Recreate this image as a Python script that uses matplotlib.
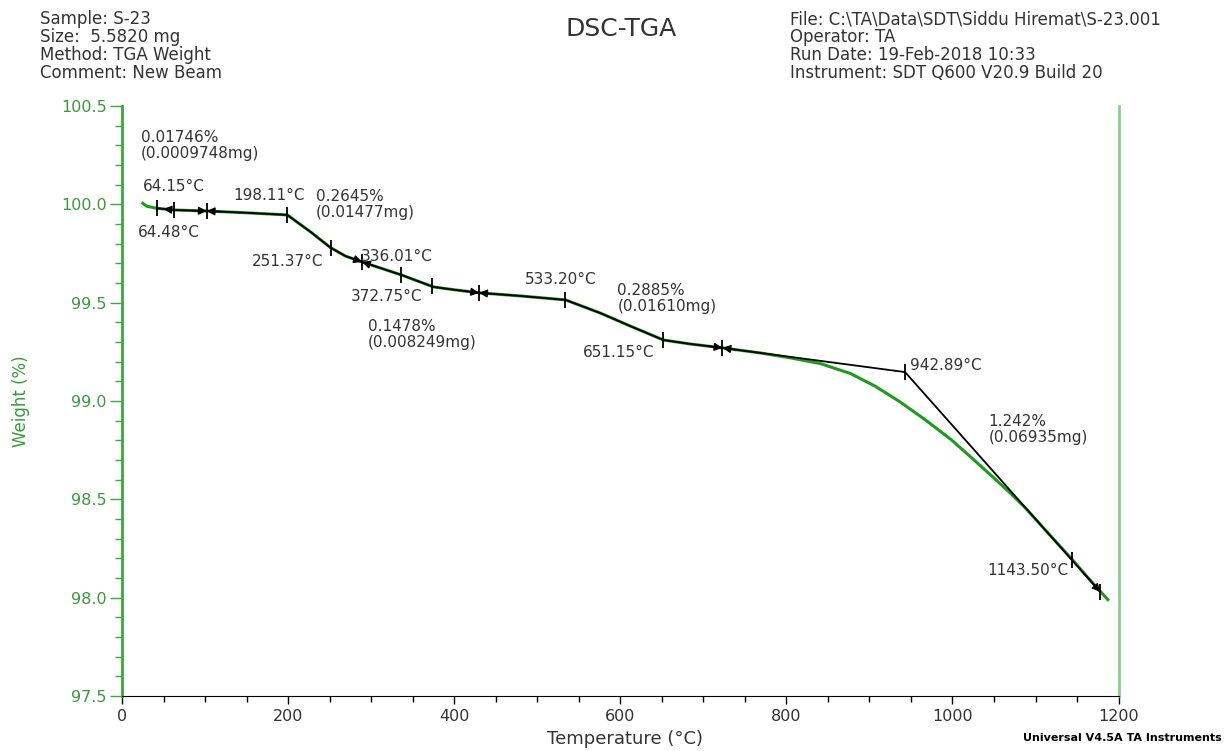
import numpy as np
import matplotlib
matplotlib.use("Agg")
import matplotlib.pyplot as plt

# TGA weight curve
temp = [25, 30, 42, 63, 102, 154, 199, 227, 251, 269, 289, 337, 375, 401, 430,
        480, 534, 576, 612, 652, 684, 723, 769, 805, 841, 877, 907, 937, 967,
        998, 1022, 1049, 1070, 1088, 1118, 1145, 1166, 1187]
weight = [100.005, 99.99, 99.98, 99.971, 99.966, 99.956, 99.946, 99.86, 99.78,
          99.737, 99.707, 99.64, 99.58, 99.565, 99.55, 99.534, 99.514, 99.447,
          99.381, 99.31, 99.29, 99.27, 99.244, 99.219, 99.190, 99.140, 99.075,
          98.995, 98.905, 98.805, 98.715, 98.612, 98.53, 98.455, 98.315, 98.19,
          98.088, 97.99]

# analysis: traced part of the curve, then the straight step lines
trace_range = (42, 723)
step_t = [723, 942.89, 1178]
step_w = [99.27, 99.147, 98.029]

# cursor marks
cursor_curve = [42, 63, 102, 198.11, 251.37, 289, 336.01, 372.75, 430,
                533.20, 651.15, 723]
cursor_line = [942.89, 1143.50, 1178]
arrows_both = [102, 289, 430, 723]

# annotation texts (label, x, y)
notes = [
    ("0.01746%\n(0.0009748mg)", 22.9, 100.299),
    ("64.15°C", 25.3, 100.093),
    ("64.48°C", 19.3, 99.859),
    ("198.11°C", 133.7, 100.047),
    ("0.2645%\n(0.01477mg)", 233.7, 99.999),
    ("251.37°C", 156.6, 99.707),
    ("336.01°C", 288.0, 99.737),
    ("372.75°C", 275.9, 99.529),
    ("0.1478%\n(0.008249mg)", 296.4, 99.338),
    ("533.20°C", 485.5, 99.620),
    ("0.2885%\n(0.01610mg)", 596.4, 99.521),
    ("651.15°C", 555.4, 99.249),
    ("942.89°C", 949.4, 99.183),
    ("1.242%\n(0.06935mg)", 1043.4, 98.855),
    ("1143.50°C", 1042.2, 98.136),
]

header_left = ["Sample: S-23", "Size:  5.5820 mg", "Method: TGA Weight",
               "Comment: New Beam"]
header_right = ["File: C:\\TA\\Data\\SDT\\Siddu Hiremat\\S-23.001",
                "Operator: TA", "Run Date: 19-Feb-2018 10:33",
                "Instrument: SDT Q600 V20.9 Build 20"]

green = "#1f9a1f"
txt = "#333333"
plt.rcParams["font.family"] = ["DejaVu Sans"]

fig = plt.figure(figsize=(12.26, 7.51), dpi=100)
ax = fig.add_axes([0.0995, 0.0732, 0.8129, 0.7857])

t = np.array(temp)
w = np.array(weight)
ax.plot(t, w, color=green, lw=2.2, zorder=2)

m = (t >= trace_range[0]) & (t <= trace_range[1])
ax.plot(t[m], w[m], color="black", lw=1.3, zorder=3)
ax.plot(step_t, step_w, color="black", lw=1.3, zorder=3)

cy = np.interp(cursor_curve, t, w)
ax.plot(cursor_curve, cy, ls="none", marker="|", ms=11, mew=1.3,
        color="black", zorder=4)
ly = np.interp(cursor_line, step_t, step_w)
ax.plot(cursor_line, ly, ls="none", marker="|", ms=11, mew=1.3,
        color="black", zorder=4)

aprops = dict(arrowstyle="-|>", color="black", lw=1.0, mutation_scale=12,
              shrinkA=0, shrinkB=0)
for c in arrows_both:
    y0 = np.interp(c, t, w)
    ax.annotate("", xy=(c, y0), xytext=(c - 18, np.interp(c - 18, t, w)),
                arrowprops=aprops, zorder=5)
    ax.annotate("", xy=(c, y0), xytext=(c + 18, np.interp(c + 18, t, w)),
                arrowprops=aprops, zorder=5)
ax.annotate("", xy=(50, np.interp(50, t, w)),
            xytext=(63, np.interp(63, t, w)), arrowprops=aprops, zorder=5)
ax.annotate("", xy=(1178, ly[-1]),
            xytext=(1158, np.interp(1158, step_t, step_w)),
            arrowprops=aprops, zorder=5)

for s, x, y in notes:
    ax.text(x, y, s, fontsize=11, color=txt, ha="left", va="center",
            linespacing=1.15, zorder=6)

ax.set_xlim(0, 1200)
ax.set_ylim(97.5, 100.5)
ax.set_xticks(np.arange(0, 1201, 200))
ax.set_xticks(np.arange(0, 1201, 50), minor=True)
ax.set_yticks(np.arange(97.5, 100.51, 0.5))
ax.set_yticks(np.arange(97.5, 100.51, 0.1), minor=True)
ax.set_yticklabels([f"{v:.1f}" for v in np.arange(97.5, 100.51, 0.5)])

ax.spines["top"].set_visible(False)
ax.spines["left"].set_color("#3aa83a")
ax.spines["left"].set_linewidth(2)
ax.spines["right"].set_color("#8ccf8c")
ax.spines["right"].set_linewidth(2)
ax.spines["bottom"].set_color("black")

ax.tick_params(axis="y", which="major", length=9, width=1, color="#3aa83a",
               labelcolor="#3a9a3a", labelsize=11.5, pad=2)
ax.tick_params(axis="y", which="minor", length=5, width=1, color="#3aa83a")
ax.tick_params(axis="x", which="major", length=6, width=1, color="black",
               labelcolor=txt, labelsize=11.5)
ax.tick_params(axis="x", which="minor", length=4, width=1, color="black")

ax.set_xlabel("Temperature (°C)", fontsize=13, color=txt)
ax.xaxis.set_label_coords(0.505, -0.058)
ax.set_ylabel("Weight (%)", fontsize=12, color="#3a9a3a")
ax.yaxis.set_label_coords(-0.092, 0.5)

for i, s in enumerate(header_left):
    fig.text(40 / 1226, 1 - (19 + 18 * i) / 751, s, fontsize=12,
             color=txt, va="center", ha="left")
for i, s in enumerate(header_right):
    fig.text(790 / 1226, 1 - (19 + 18 * i) / 751, s, fontsize=12,
             color=txt, va="center", ha="left")
fig.text(621 / 1226, 1 - 29 / 751, "DSC-TGA", fontsize=18, color=txt,
         ha="center", va="center")
fig.text(1222 / 1226, 1 - 738 / 751, "Universal V4.5A TA Instruments",
         fontsize=8, fontweight="bold", color="black", ha="right",
         va="center")

fig.savefig("out.png", dpi=100)
